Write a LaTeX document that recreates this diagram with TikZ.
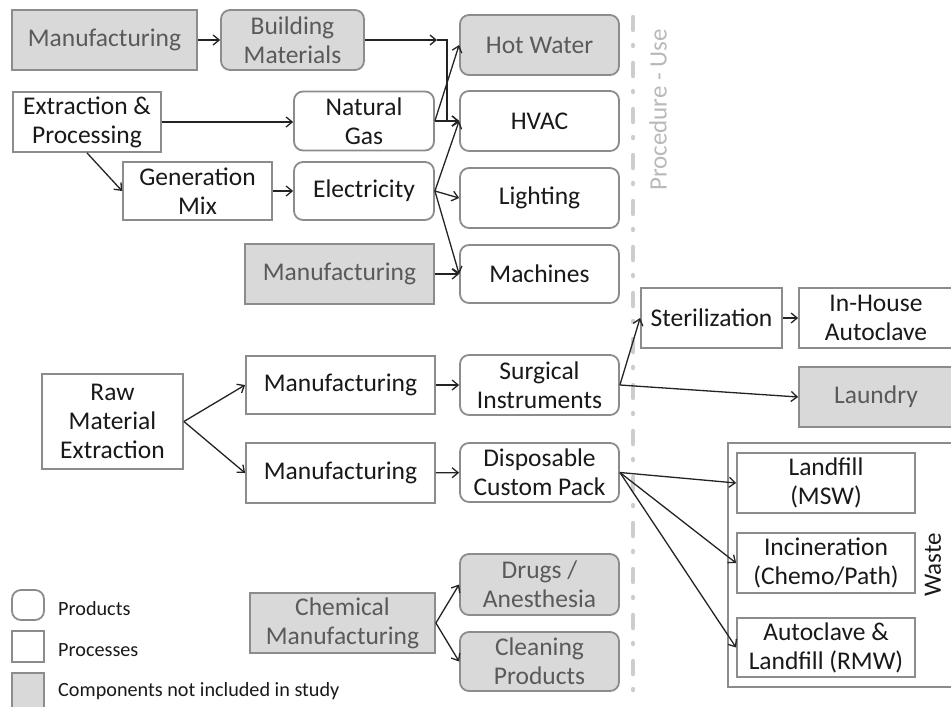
\documentclass[tikz,border=0pt]{standalone}
\usepackage{fontspec}
\setmainfont{Carlito}
\usetikzlibrary{arrows.meta}
\definecolor{boxline}{RGB}{140,140,140}
\definecolor{greyfill}{RGB}{217,217,217}
\definecolor{greytext}{RGB}{90,90,90}
\definecolor{inktext}{RGB}{25,25,25}
\definecolor{divider}{RGB}{205,205,205}
\definecolor{arrowink}{RGB}{35,35,35}
\begin{document}
\begin{tikzpicture}[x=1pt,y=-1pt,
  base/.style={draw=boxline,line width=1.8pt,inner sep=0pt,align=center,
    font=\fontsize{25.5}{29}\selectfont,text=inktext},
  proc/.style={base,fill=white},
  prod/.style={base,fill=white,rounded corners=9pt},
  proc out/.style={base,fill=greyfill,text=greytext},
  prod out/.style={base,fill=greyfill,text=greytext,rounded corners=9pt},
  sz/.style 2 args={minimum width=#1pt,minimum height=#2pt},
  flow/.style={draw=arrowink,line width=1.3pt,-{Straight Barb[length=6pt,width=10pt,line width=1.3pt]}},
  legtext/.style={anchor=west,inner sep=0pt,font=\fontsize{20.2}{23}\selectfont,text=inktext},
  sidelabel/.style={rotate=90,inner sep=0pt,font=\fontsize{25}{29}\selectfont}]
\useasboundingbox (0,0) rectangle (951,707);

% upstream building / energy chain
\node[proc out,sz={185}{60}] (mfgTop) at (104.5,40) {Manufacturing};
\node[prod out,sz={143}{60}] (bldg) at (292.5,40) {Building\\Materials};
\node[proc,sz={148}{60}] (extr) at (87,122) {Extraction \&\\Processing};
\node[prod,sz={140}{59}] (ngas) at (364,121) {Natural\\Gas};
\node[proc,sz={149}{58}] (genmix) at (197.5,191) {Generation\\Mix};
\node[prod,sz={140}{58}] (elec) at (364,191) {Electricity};
\node[proc out,sz={189}{60}] (mfgMid) at (339.5,274) {Manufacturing};

% building services
\node[prod out,sz={159}{60}] (hotw) at (539.5,45) {Hot Water};
\node[prod,sz={159}{60}] (hvac) at (539.5,121) {HVAC};
\node[prod,sz={159}{60}] (light) at (539.5,198) {Lighting};
\node[prod,sz={159}{58}] (mach) at (539.5,274) {Machines};

% instruments and packs
\node[proc,sz={141}{95}] (raw) at (112.5,421.5) {Raw\\Material\\Extraction};
\node[proc,sz={189}{58}] (mfgA) at (340.5,385) {Manufacturing};
\node[proc,sz={189}{60}] (mfgB) at (340.5,473) {Manufacturing};
\node[prod,sz={159}{60}] (surg) at (539.5,385) {Surgical\\Instruments};
\node[prod,sz={159}{59}] (disp) at (539.5,472.5) {Disposable\\Custom Pack};

% chemicals
\node[proc out,sz={185}{60}] (chem) at (342.5,623) {Chemical\\Manufacturing};
\node[prod out,sz={159}{61}] (drugs) at (539.5,584.5) {Drugs /\\Anesthesia};
\node[prod out,sz={159}{59}] (clean) at (539.5,661.5) {Cleaning\\Products};

% reprocessing
\node[proc,sz={141}{60}] (steril) at (711.5,318) {Sterilization};
\node[proc,sz={154}{60}] (inhouse) at (876,318) {In-House\\Autoclave};
\node[proc out,sz={154}{60}] (laundry) at (876,397) {Laundry};

% waste streams
\node[proc,sz={227}{244}] (wastebox) at (841.5,565) {};
\node[proc,sz={178}{60}] (landfill) at (826,483) {Landfill\\(MSW)};
\node[proc,sz={178}{60}] (incin) at (826,563) {Incineration\\(Chemo/Path)};
\node[proc,sz={178}{59}] (autocl) at (826,647.5) {Autoclave \&\\Landfill (RMW)};
\node[sidelabel,text=inktext] (wastelbl) at (933,565) {Waste};

% procedure boundary
\coordinate (divTop) at (633,17);
\coordinate (divBot) at (633,692);
\draw[divider,line width=4.5pt,line cap=round,dash pattern=on 13pt off 15pt on 1pt off 17pt] (divTop) -- (divBot);
\node[sidelabel,text=divider!90!black] (uselbl) at (658,110) {Procedure - Use};

% legend
\node[prod,sz={32}{30}] (legProd) at (28,605) {};
\node[proc,sz={32}{31}] (legProc) at (28,646.5) {};
\node[proc out,sz={32}{40}] (legOut) at (28,693) {};
\node[legtext] (legProdT) at (58,609) {Products};
\node[legtext] (legProcT) at (58,650) {Processes};
\node[legtext] (legOutT) at (58,691) {Components not included in study};

% connectors
\draw[flow] (mfgTop) -- (bldg);
\coordinate (bldgTip) at (437,40);
\coordinate (bldgBend) at (447,40);
\draw[flow] (bldg.east) -- (bldgTip);
\draw[flow] (bldgTip) -- (bldgBend) |- (hvac.west);
\draw[flow] (extr.east) -- (ngas.west |- extr.east);
\draw[flow] (extr.south) -- (genmix.west);
\draw[flow] (genmix) -- (elec);
\draw[flow] (ngas.east) -- (hvac.west);
\draw[flow] (ngas.east) -- (hotw.west);
\draw[flow] (elec.east) -- (hvac.west);
\draw[flow] (elec.east) -- (light.west);
\draw[flow] (elec.east) -- (mach.west);
\draw[flow] (mfgMid) -- (mach);
\draw[flow] (raw.east) -- (mfgA.west);
\draw[flow] (raw.east) -- (mfgB.west);
\draw[flow] (mfgA) -- (surg);
\draw[flow] (mfgB) -- (disp);
\draw[flow] (surg.east) -- (steril.west);
\draw[flow] (surg.east) -- (laundry.west);
\draw[flow] (steril) -- (inhouse);
\draw[flow] (disp.east) -- (landfill.west);
\draw[flow] (disp.east) -- (incin.west);
\draw[flow] (disp.east) -- (autocl.west);
\draw[flow] (chem.east) -- (drugs.west);
\draw[flow] (chem.east) -- (clean.west);
\end{tikzpicture}
\end{document}
